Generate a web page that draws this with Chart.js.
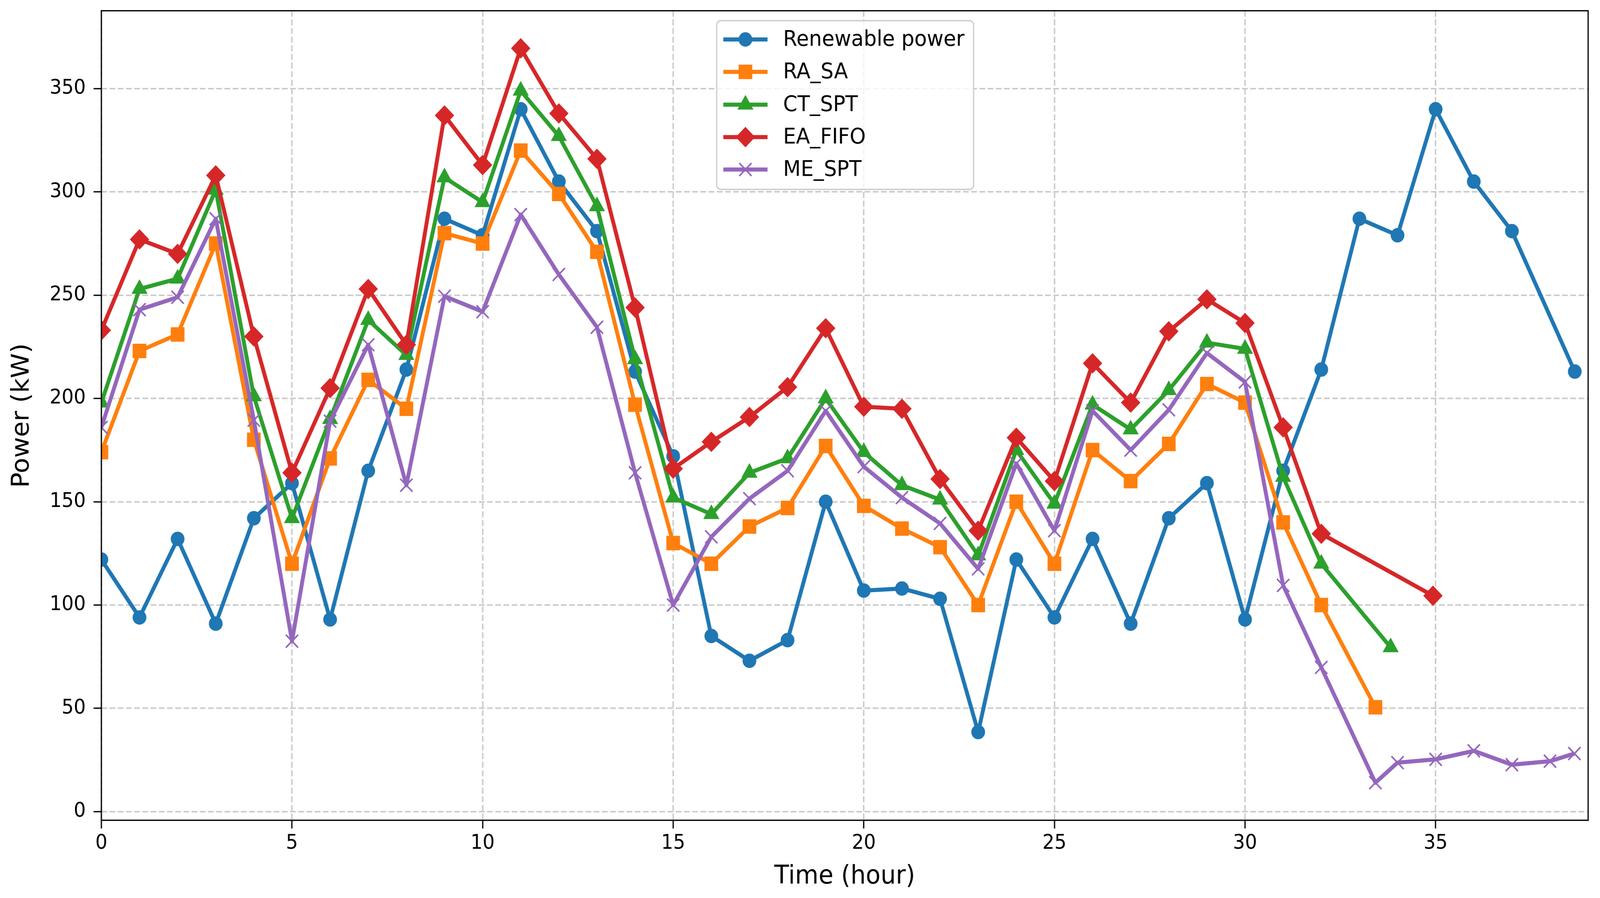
<!DOCTYPE html>
<html>
<head>
<meta charset="utf-8">
<script src="https://cdn.jsdelivr.net/npm/chart.js@4.4.1/dist/chart.umd.min.js"></script>
<style>
  html, body { margin: 0; padding: 0; background: #fff; overflow: hidden; }
  canvas { display: block; transform-origin: 0 0; }
</style>
</head>
<body>
<canvas id="chart" width="4309" height="2299" style="width:4309px;height:2299px"></canvas>
<script>
// ── data ────────────────────────────────────────────────────────────────────

const renewableTime = [0, 1, 2, 3, 4, 5, 6, 7, 8, 9, 10, 11, 12, 13, 14, 15, 16, 17, 18, 19,
    20, 21, 22, 23, 24, 25, 26, 27, 28, 29, 30, 31, 32, 33, 34, 35, 36, 37, 38.65];
const renewablePower = [122, 94, 132, 91, 142, 159, 93, 165, 214, 287, 279, 340, 305, 281, 213, 172,
    85, 73, 83, 150, 107, 108, 103, 38.5, 122, 94, 132, 91, 142, 159, 93, 165, 214, 287, 279, 340,
    305, 281, 213];

const raSaTime = [0, 1, 2, 3, 4, 5, 6, 7, 8, 9, 10, 11, 12, 13, 14, 15, 16, 17, 18, 19,
    20, 21, 22, 23, 24, 25, 26, 27, 28, 29, 30, 31, 32, 33.42];
const raSa = [174, 223, 231, 275, 180, 120, 171, 209, 195, 280, 275, 320, 299, 271, 197, 130, 120,
    138, 147, 177, 148, 137, 128, 100, 150, 120, 175, 160, 178, 207, 198, 140, 100, 50.5];

const ctSptTime = [0, 1, 2, 3, 4, 5, 6, 7, 8, 9, 10, 11, 12, 13, 14, 15, 16, 17, 18, 19,
    20, 21, 22, 23, 24, 25, 26, 27, 28, 29, 30, 31, 32, 33.82];
const ctSpt = [198, 253, 258, 301, 201, 142, 190, 238, 221, 307, 295, 349, 327, 293, 219, 152, 144,
    164, 171, 200, 174, 158, 151, 124, 175, 149, 197, 185, 204, 227, 224, 162, 120, 79.5];

const eaFifoTime = [0, 1, 2, 3, 4, 5, 6, 7, 8, 9, 10, 11, 12, 13, 14, 15, 16, 17, 18, 19,
    20, 21, 22, 23, 24, 25, 26, 27, 28, 29, 30, 31, 32, 34.93];
const eaFifo = [233, 277, 270, 308, 230, 164, 205, 253, 226, 337, 313, 369.5, 338, 316, 244, 166, 179,
    191, 205.5, 234, 196, 195, 161, 136, 181, 160, 217, 198, 232.5, 248, 236.5, 186, 134.5, 104.5];

const meSptTime = [0, 1, 2, 3, 4, 5, 6, 7, 8, 9, 10, 11, 12, 13, 14, 15, 16, 17, 18, 19,
    20, 21, 22, 23, 24, 25, 26, 27, 28, 29, 30, 31, 32, 33.42, 34, 35, 36, 37, 38, 38.64];
const meSpt = [186, 243, 249, 287, 189.5, 82.5, 189, 226, 158, 249.5, 242, 289, 260, 234.5, 164, 100,
    133, 151.5, 165, 194, 167, 152, 139.5, 117.5, 168.5, 136, 194, 175, 194.5, 222, 208, 109.5, 69.8,
    14, 23.7, 25.3, 29.4, 22.7, 24.4, 28.1];

const seriesNames = ['Renewable power', 'RA_SA', 'CT_SPT', 'EA_FIFO', 'ME_SPT'];
const xTickStep = 5;
const yTickStep = 50;

// ── styling ─────────────────────────────────────────────────────────────────

const W = 4309, H = 2299;
const FONT = 'DejaVu Sans';
const colors = ['#1f77b4', '#ff7f0e', '#2ca02c', '#d62728', '#9467bd'];
const markers = [
    { pointStyle: 'circle', radius: 16.5, border: 4 },
    { pointStyle: 'rect', radius: 23.3, border: 4 },
    { pointStyle: 'triangle', radius: 21, border: 4 },
    { pointStyle: 'rectRot', radius: 23.3, border: 4 },
    { pointStyle: 'crossRot', radius: 23.3, border: 4.2 },
];

// the browser viewport can be narrower than W (capped width): draw at W×H, fit to the viewport
const canvas = document.getElementById('chart');
const sx = window.innerWidth / W, sy = window.innerHeight / H;
if (Math.abs(sx - 1) > 0.001 || Math.abs(sy - 1) > 0.001) {
    canvas.style.transform = `scale(${sx}, ${sy})`;
}

const toPoints = (xs, ys) => xs.map((x, i) => ({ x, y: ys[i] }));
const series = [
    toPoints(renewableTime, renewablePower),
    toPoints(raSaTime, raSa),
    toPoints(ctSptTime, ctSpt),
    toPoints(eaFifoTime, eaFifo),
    toPoints(meSptTime, meSpt),
];

const datasets = series.map((pts, i) => ({
    label: seriesNames[i],
    data: pts,
    borderColor: colors[i],
    backgroundColor: colors[i],
    borderWidth: 10.5,
    borderJoinStyle: 'round',
    pointStyle: markers[i].pointStyle,
    pointRadius: markers[i].radius,
    pointBorderWidth: markers[i].border,
    pointBackgroundColor: colors[i],
    pointBorderColor: colors[i],
    tension: 0,
    clip: 0,
    order: seriesNames.length - i, // later series on top, like matplotlib
}));

// matplotlib-ish frame: full box spines + legend with line and marker
const frameAndLegend = {
    id: 'frameAndLegend',
    afterDraw(chart) {
        const { ctx, chartArea: a } = chart;
        ctx.save();
        ctx.strokeStyle = '#000';
        ctx.lineWidth = 3.3;
        ctx.setLineDash([]);
        ctx.strokeRect(a.left, a.top, a.right - a.left, a.bottom - a.top);

        // legend box (upper center)
        const bx = 1930, by = 53, bw = 692, bh = 432;
        ctx.beginPath();
        ctx.roundRect(bx, by, bw, bh, 11);
        ctx.fillStyle = 'rgba(255,255,255,0.8)';
        ctx.fill();
        ctx.strokeStyle = '#cccccc';
        ctx.lineWidth = 3.3;
        ctx.stroke();

        const rowY = [101, 184, 268, 351, 434];
        chart.data.datasets.forEach((ds, i) => {
            const y = rowY[i];
            ctx.strokeStyle = ds.borderColor;
            ctx.lineWidth = ds.borderWidth;
            ctx.lineCap = 'butt';
            ctx.beginPath();
            ctx.moveTo(1948, y);
            ctx.lineTo(2067, y);
            ctx.stroke();

            ctx.fillStyle = ds.pointBackgroundColor;
            ctx.strokeStyle = ds.pointBorderColor;
            ctx.lineWidth = ds.pointBorderWidth;
            const opts = { pointStyle: ds.pointStyle, radius: ds.pointRadius, borderWidth: ds.pointBorderWidth, rotation: 0 };
            if (Chart.helpers && Chart.helpers.drawPoint) {
                Chart.helpers.drawPoint(ctx, opts, 2007.5, y);
            } else {
                ctx.beginPath();
                ctx.arc(2007.5, y, ds.pointRadius, 0, Math.PI * 2);
                ctx.fill();
            }

            ctx.fillStyle = '#000';
            ctx.font = `55px "${FONT}"`;
            ctx.textBaseline = 'middle';
            ctx.textAlign = 'left';
            ctx.fillText(ds.label, 2109, y + 2);
        });
        ctx.restore();
    }
};

const gridStyle = {
    color: '#cccccc',
    lineWidth: 4,
    drawTicks: true,
    tickLength: 21,
    tickColor: '#000',
    tickWidth: 3.3,
    tickBorderDash: [],
};

new Chart(canvas, {
    type: 'line',
    data: { datasets },
    options: {
        responsive: false,
        animation: false,
        devicePixelRatio: 1,
        events: [],
        layout: { padding: { left: 0, top: 25, right: 32, bottom: 0 } },
        plugins: { legend: { display: false }, tooltip: { enabled: false } },
        scales: {
            x: {
                type: 'linear',
                min: 0,
                max: 39,
                ticks: {
                    stepSize: xTickStep,
                    includeBounds: false,
                    autoSkip: false,
                    maxRotation: 0,
                    color: '#000',
                    padding: 8,
                    font: { family: FONT, size: 51 },
                },
                grid: gridStyle,
                border: { display: false, dash: [15.4, 6.7] },
                title: {
                    display: true,
                    text: 'Time (hour)',
                    color: '#000',
                    font: { family: FONT, size: 65 },
                    padding: { top: 0, bottom: 15 },
                },
                afterFit(s) {
                    s.height = 199;
                    s.paddingLeft = 0;
                    s.paddingRight = 0;
                },
            },
            y: {
                type: 'linear',
                min: -4.2,
                max: 387.7,
                ticks: {
                    stepSize: yTickStep,
                    includeBounds: false,
                    autoSkip: false,
                    color: '#000',
                    padding: 21,
                    font: { family: FONT, size: 51 },
                },
                grid: gridStyle,
                border: { display: false, dash: [15.4, 6.7] },
                title: {
                    display: true,
                    text: 'Power (kW)',
                    color: '#000',
                    font: { family: FONT, size: 65 },
                    padding: { top: 21, bottom: 0 },
                },
                afterFit(s) {
                    s.width = 273;
                    s.paddingTop = 0;
                    s.paddingBottom = 0;
                },
            },
        },
    },
    plugins: [frameAndLegend],
});
</script>
</body>
</html>
